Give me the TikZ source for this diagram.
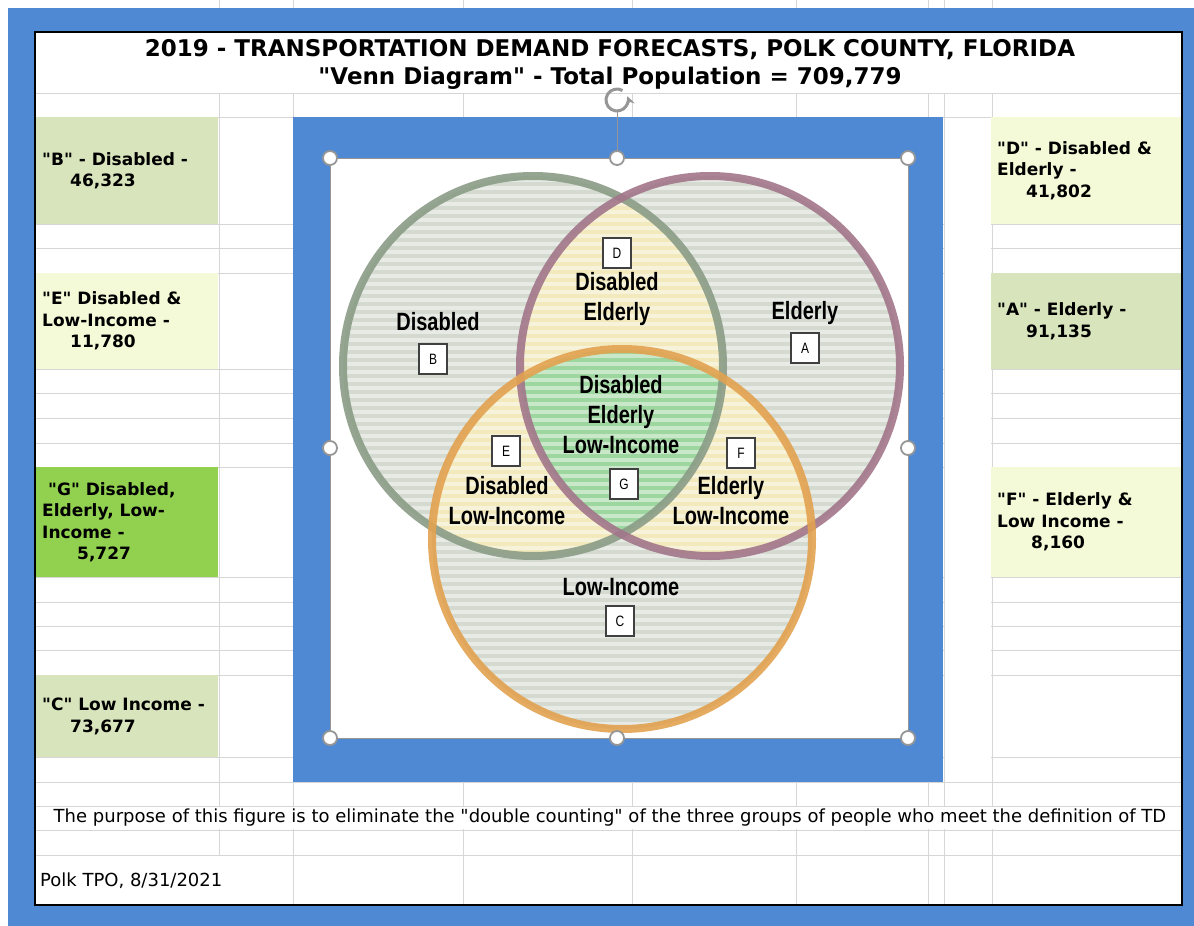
\documentclass[tikz,border=0pt]{standalone}
\usepackage{fontspec}
\newfontfamily\cellfont{DejaVu Sans}
\newfontfamily\vennfont[FakeStretch=0.8]{Liberation Sans}
\usetikzlibrary{positioning}
\definecolor{xlblue}{RGB}{80,137,211}
\definecolor{gridline}{RGB}{214,214,214}
\definecolor{handlegray}{RGB}{150,150,150}
\definecolor{cellolive}{RGB}{216,228,188}
\definecolor{cellcream}{RGB}{244,250,216}
\definecolor{cellgreen}{RGB}{146,208,80}
\definecolor{ringdis}{RGB}{138,156,134}
\definecolor{ringeld}{RGB}{162,118,138}
\definecolor{ringlow}{RGB}{226,162,80}
\definecolor{fillone}{RGB}{212,218,208}
\definecolor{filltwo}{RGB}{242,233,188}
\definecolor{fillthree}{RGB}{158,214,160}
\tikzset{
  cell/.style={fill=#1, anchor=north west, inner sep=0, minimum width=182pt},
  celltext/.style={anchor=west, align=left, inner sep=0, font=\cellfont\bfseries\fontsize{17}{21.5}\selectfont},
  vennlabel/.style={align=center, inner sep=0, font=\vennfont\bfseries\fontsize{25}{30}\selectfont},
  letterbox/.style={draw=black!75, fill=white, line width=1.2, inner sep=0, minimum width=28pt, minimum height=30pt, font=\vennfont\fontsize{15}{15}\selectfont},
  handle/.style={circle, draw=handlegray, fill=white, line width=1.8, inner sep=0, minimum size=14pt},
  ring/.style={line width=8, opacity=.9}
}
\begin{document}
\begin{tikzpicture}[x=1pt, y=-1pt]
\useasboundingbox (0,0) rectangle (1194,926);
\fill[white] (0,0) rectangle (1194,926);
\fill[xlblue] (8,8) rectangle (1194,926);
\foreach \x in {219,293,463,632,796,928,944,992} \draw[gridline] (\x,0) -- (\x,8);
\fill[white] (35,32) rectangle (1182,905);
\foreach \x in {219,293,463,632,796,928,944,992} \draw[gridline] (\x,93) -- (\x,905);
\foreach \y in {93,117,224,248,273,369,393,418,443,467,577,602,626,650,675,757,782,806,830,855}
  \draw[gridline] (35,\y) -- (1182,\y);
\fill[white] (36,807) rectangle (1181,829);
\fill[white] (36,856) rectangle (292,904);
\fill[white] (945,118) rectangle (991,781);
\draw[line width=2.5] (35,32) rectangle (1182,905);

\node[font=\cellfont\bfseries\fontsize{23}{28}\selectfont, align=center, inner sep=0] (title) at (610,64)
  {2019 - TRANSPORTATION DEMAND FORECASTS, POLK COUNTY, FLORIDA\\"Venn Diagram" - Total Population = 709,779};

\node[cell=cellolive, minimum height=107pt] (cellb) at (36,117) {};
\node[cell=cellcream, minimum height=96pt] (celle) at (36,273) {};
\node[cell=cellgreen, minimum height=110pt] (cellg) at (36,467) {};
\node[cell=cellolive, minimum height=82pt] (cellc) at (36,675) {};
\node[cell=cellcream, minimum height=107pt, minimum width=190pt] (celld) at (991,117) {};
\node[cell=cellolive, minimum height=96pt, minimum width=190pt] (cella) at (991,273) {};
\node[cell=cellcream, minimum height=110pt, minimum width=190pt] (cellf) at (991,467) {};
\node[celltext] (txtb) at ([xshift=6pt]cellb.west) {"B" - Disabled -\\\hspace*{28pt}46,323};
\node[celltext] (txte) at ([xshift=6pt]celle.west) {"E" Disabled \&\\Low-Income -\\\hspace*{28pt}11,780};
\node[celltext] (txtg) at ([xshift=6pt]cellg.west) {\hspace*{6pt}"G" Disabled,\\Elderly, Low-\\Income -\\\hspace*{35pt}5,727};
\node[celltext] (txtc) at ([xshift=6pt]cellc.west) {"C" Low Income -\\\hspace*{28pt}73,677};
\node[celltext] (txtd) at ([xshift=6pt]celld.west) {"D" - Disabled \&\\Elderly -\\\hspace*{29pt}41,802};
\node[celltext] (txta) at ([xshift=6pt]cella.west) {"A" - Elderly -\\\hspace*{29pt}91,135};
\node[celltext] (txtf) at ([xshift=6pt]cellf.west) {"F" - Elderly \&\\Low Income -\\\hspace*{34pt}8,160};

\node[font=\cellfont\fontsize{18}{20}\selectfont, inner sep=0] (purpose) at (610,818)
  {The purpose of this figure is to eliminate the "double counting" of the three groups of people who meet the definition of TD};
\node[font=\cellfont\fontsize{18}{20}\selectfont, anchor=west, inner sep=0] (source) at (40,881) {Polk TPO, 8/31/2021};

\fill[xlblue] (293,117) rectangle (943,782);
\fill[white] (330,158) rectangle (908,738);
\coordinate (cdis) at (533,366);
\coordinate (celd) at (710,366);
\coordinate (clow) at (622,539);
\fill[fillone] (cdis) circle (190pt) (celd) circle (190pt) (clow) circle (190pt);
\begin{scope}
  \clip (cdis) circle (190pt);
  \fill[filltwo] (celd) circle (190pt) (clow) circle (190pt);
\end{scope}
\begin{scope}
  \clip (celd) circle (190pt);
  \fill[filltwo] (clow) circle (190pt);
\end{scope}
\begin{scope}
  \clip (cdis) circle (190pt);
  \clip (celd) circle (190pt);
  \fill[fillthree] (clow) circle (190pt);
\end{scope}
\begin{scope}
  \clip (cdis) circle (187pt) (celd) circle (187pt) (clow) circle (187pt);
  \foreach \y in {172,180,...,736} \draw[white, opacity=.45, line width=3.5] (335,\y) -- (905,\y);
\end{scope}
\draw[ring, ringdis] (cdis) circle (190pt);
\draw[ring, ringeld] (celd) circle (190pt);
\draw[ring, ringlow] (clow) circle (190pt);

\node[letterbox] (boxd) at (617,253) {D};
\node[vennlabel] (lbld) at (617,299) {Disabled\\Elderly};
\node[vennlabel] (lblb) at (438,322) {Disabled};
\node[letterbox] (boxb) at (433,359) {B};
\node[vennlabel] (lbla) at (805,313) {Elderly};
\node[letterbox] (boxa) at (805,348) {A};
\node[vennlabel] (lblg) at (621,415) {Disabled\\Elderly\\Low-Income};
\node[letterbox] (boxg) at (624,484) {G};
\node[letterbox] (boxe) at (506,451) {E};
\node[vennlabel] (lble) at (507,501) {Disabled\\Low-Income};
\node[letterbox] (boxf) at (741,453) {F};
\node[vennlabel] (lblf) at (731,501) {Elderly\\Low-Income};
\node[vennlabel] (lblc) at (621,587) {Low-Income};
\node[letterbox] (boxc) at (620,621) {C};

\draw[handlegray, line width=1] (330,158) rectangle (908,738);
\foreach \nm/\x/\y in {hnw/330/158, hn/617/158, hne/908/158, hw/330/448, he/908/448, hsw/330/738, hs/617/738, hse/908/738}
  \node[handle] (\nm) at (\x,\y) {};
\coordinate (rot) at (617,100);
\coordinate (rotstem) at (617,112);
\draw[handlegray, line width=1] (rotstem) -- (hn);
\draw[handlegray, line width=3, -stealth] ([shift={(60:11pt)}]rot) arc[start angle=60, end angle=380, radius=11pt];
\end{tikzpicture}
\end{document}
